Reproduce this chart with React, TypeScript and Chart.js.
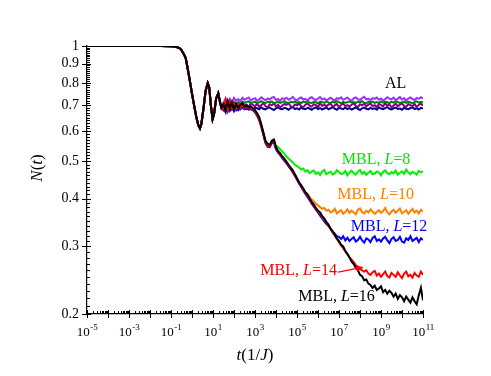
import React, { useEffect, useRef } from 'react';
import { Chart, registerables } from 'chart.js';

Chart.register(...registerables);

// ---------- data (log10 of t, and N(t)) ----------
const earlyLogT = [-5, -2, -1.5, -1.0, -0.8, -0.6, -0.5, -0.4, -0.3, -0.2, -0.1, 0, 0.1, 0.2, 0.3, 0.38, 0.45, 0.55, 0.65, 0.75, 0.82, 0.9, 0.98, 1.05, 1.15, 1.25, 1.32, 1.4];
const earlyN = [1, 1, 1, 0.999, 0.996, 0.988, 0.975, 0.955, 0.93, 0.87, 0.81, 0.75, 0.7, 0.655, 0.622, 0.61, 0.628, 0.69, 0.765, 0.8, 0.78, 0.7, 0.645, 0.665, 0.73, 0.753, 0.72, 0.69];

const lateLogT = [
  1.5, 1.6, 1.7, 1.8, 1.9, 2.0, 2.1, 2.2, 2.3, 2.4,
  2.5, 2.6, 2.7, 2.8, 2.9, 3.0, 3.1, 3.2, 3.3, 3.4,
  3.5, 3.6, 3.7, 3.8, 3.9, 4.0, 4.1, 4.2, 4.3, 4.4,
  4.5, 4.6, 4.7, 4.8, 4.9, 5.0, 5.1, 5.2, 5.3, 5.4,
  5.5, 5.6, 5.7, 5.8, 5.9, 6.0, 6.1, 6.2, 6.3, 6.4,
  6.5, 6.6, 6.7, 6.8, 6.9, 7.0, 7.1, 7.2, 7.3, 7.4,
  7.5, 7.6, 7.7, 7.8, 7.9, 8.0, 8.1, 8.2, 8.3, 8.4,
  8.5, 8.6, 8.7, 8.8, 8.9, 9.0, 9.1, 9.2, 9.3, 9.4,
  9.5, 9.6, 9.7, 9.8, 9.9, 10.0, 10.1, 10.2, 10.3, 10.4,
  10.5, 10.6, 10.7, 10.8, 10.9, 11.0,
];

const mblL16 = [
  0.705, 0.68, 0.718, 0.688, 0.712, 0.684, 0.706, 0.69, 0.702, 0.708,
  0.695, 0.7, 0.692, 0.696, 0.688, 0.68, 0.668, 0.652, 0.625, 0.595,
  0.566, 0.555, 0.552, 0.566, 0.57, 0.545, 0.532, 0.525, 0.515, 0.508,
  0.499, 0.49, 0.482, 0.474, 0.463, 0.452, 0.441, 0.433, 0.425, 0.415,
  0.41, 0.4, 0.392, 0.386, 0.378, 0.372, 0.368, 0.36, 0.355, 0.347,
  0.342, 0.334, 0.328, 0.322, 0.315, 0.31, 0.303, 0.3, 0.292, 0.287,
  0.281, 0.274, 0.27, 0.264, 0.26, 0.253, 0.251, 0.245, 0.246, 0.24,
  0.238, 0.234, 0.237, 0.231, 0.233, 0.236, 0.228, 0.231, 0.226, 0.23,
  0.227, 0.222, 0.226, 0.219, 0.224, 0.221, 0.216, 0.222, 0.218, 0.214,
  0.221, 0.216, 0.212, 0.224, 0.234, 0.217,
];

const mblL14 = [
  0.685, 0.722, 0.678, 0.716, 0.688, 0.71, 0.686, 0.703, 0.69, 0.7,
  0.688, 0.697, 0.688, 0.69, 0.684, 0.676, 0.662, 0.645, 0.62, 0.59,
  0.563, 0.55, 0.548, 0.562, 0.565, 0.541, 0.53, 0.522, 0.513, 0.505,
  0.497, 0.488, 0.48, 0.471, 0.461, 0.45, 0.44, 0.431, 0.422, 0.414,
  0.407, 0.399, 0.39, 0.384, 0.376, 0.37, 0.365, 0.358, 0.352, 0.346,
  0.34, 0.333, 0.326, 0.32, 0.314, 0.308, 0.302, 0.297, 0.291, 0.286,
  0.281, 0.277, 0.273, 0.268, 0.266, 0.262, 0.26, 0.258, 0.26, 0.255,
  0.253, 0.257, 0.259, 0.252, 0.255, 0.25, 0.254, 0.258, 0.251, 0.249,
  0.256, 0.253, 0.25, 0.257, 0.252, 0.248, 0.255, 0.258, 0.251, 0.253,
  0.249, 0.256, 0.252, 0.25, 0.258, 0.253,
];

const mblL12 = [
  0.69, 0.672, 0.7, 0.678, 0.696, 0.676, 0.692, 0.68, 0.688, 0.69,
  0.684, 0.688, 0.682, 0.685, 0.68, 0.672, 0.658, 0.64, 0.615, 0.585,
  0.558, 0.546, 0.545, 0.558, 0.56, 0.538, 0.527, 0.519, 0.51, 0.502,
  0.494, 0.485, 0.477, 0.468, 0.458, 0.448, 0.438, 0.429, 0.42, 0.411,
  0.404, 0.396, 0.388, 0.381, 0.374, 0.368, 0.361, 0.355, 0.349, 0.343,
  0.339, 0.334, 0.328, 0.324, 0.319, 0.318, 0.314, 0.319, 0.311, 0.316,
  0.31, 0.314, 0.317, 0.309, 0.312, 0.318, 0.311, 0.307, 0.315, 0.313,
  0.308, 0.316, 0.319, 0.31, 0.313, 0.309, 0.315, 0.318, 0.311, 0.306,
  0.314, 0.317, 0.31, 0.312, 0.318, 0.309, 0.307, 0.315, 0.312, 0.319,
  0.31, 0.313, 0.316, 0.308, 0.315, 0.312,
];

const mblL10 = [
  0.7, 0.676, 0.71, 0.684, 0.7, 0.682, 0.698, 0.686, 0.694, 0.698,
  0.69, 0.694, 0.686, 0.69, 0.684, 0.674, 0.66, 0.642, 0.616, 0.588,
  0.56, 0.548, 0.546, 0.56, 0.562, 0.54, 0.528, 0.52, 0.512, 0.504,
  0.496, 0.487, 0.479, 0.47, 0.46, 0.45, 0.44, 0.431, 0.423, 0.416,
  0.41, 0.404, 0.398, 0.393, 0.388, 0.384, 0.38, 0.376, 0.378, 0.372,
  0.374, 0.368, 0.371, 0.376, 0.366, 0.37, 0.373, 0.365, 0.369, 0.375,
  0.367, 0.372, 0.368, 0.364, 0.374, 0.377, 0.369, 0.366, 0.372, 0.368,
  0.375, 0.37, 0.365, 0.369, 0.373, 0.367, 0.371, 0.378, 0.368, 0.364,
  0.37, 0.374, 0.367, 0.372, 0.377, 0.366, 0.369, 0.373, 0.365, 0.371,
  0.376, 0.368, 0.372, 0.366, 0.374, 0.37,
];

const mblL8 = [
  0.695, 0.674, 0.706, 0.682, 0.698, 0.68, 0.696, 0.684, 0.692, 0.696,
  0.688, 0.692, 0.684, 0.688, 0.682, 0.674, 0.66, 0.645, 0.62, 0.592,
  0.566, 0.556, 0.553, 0.566, 0.566, 0.55, 0.545, 0.538, 0.53, 0.523,
  0.515, 0.508, 0.503, 0.497, 0.49, 0.486, 0.482, 0.476, 0.479, 0.471,
  0.474, 0.466, 0.47, 0.473, 0.464, 0.468, 0.461, 0.471, 0.475, 0.463,
  0.467, 0.47, 0.462, 0.466, 0.474, 0.469, 0.463, 0.465, 0.472, 0.46,
  0.468, 0.473, 0.466, 0.462, 0.47, 0.475, 0.464, 0.469, 0.461, 0.467,
  0.472, 0.463, 0.465, 0.471, 0.468, 0.46, 0.47, 0.474, 0.466, 0.463,
  0.469, 0.465, 0.473, 0.462, 0.467, 0.471, 0.464, 0.476, 0.468, 0.463,
  0.47, 0.466, 0.462, 0.472, 0.468, 0.471,
];

const alViolet = [
  0.712, 0.73, 0.705, 0.728, 0.715, 0.732, 0.72, 0.727, 0.718, 0.733,
  0.724, 0.729, 0.734, 0.721, 0.727, 0.731, 0.719, 0.726, 0.735, 0.728,
  0.722, 0.73, 0.725, 0.733, 0.736, 0.723, 0.728, 0.72, 0.731, 0.727,
  0.733, 0.724, 0.729, 0.737, 0.726, 0.721, 0.73, 0.734, 0.725, 0.728,
  0.72, 0.731, 0.735, 0.727, 0.723, 0.729, 0.736, 0.725, 0.73, 0.722,
  0.727, 0.733, 0.726, 0.721, 0.731, 0.728, 0.735, 0.724, 0.729, 0.733,
  0.725, 0.72, 0.73, 0.734, 0.727, 0.723, 0.732, 0.737, 0.726, 0.729,
  0.722, 0.731, 0.728, 0.734, 0.724, 0.73, 0.721, 0.727, 0.735, 0.729,
  0.726, 0.733, 0.723, 0.728, 0.736, 0.725, 0.731, 0.72, 0.729, 0.734,
  0.727, 0.723, 0.732, 0.728, 0.735, 0.73,
];

const alGreen = [
  0.7, 0.72, 0.695, 0.718, 0.704, 0.716, 0.708, 0.714, 0.706, 0.716,
  0.711, 0.715, 0.717, 0.71, 0.713, 0.716, 0.709, 0.714, 0.718, 0.712,
  0.71, 0.715, 0.713, 0.717, 0.709, 0.712, 0.716, 0.711, 0.714, 0.718,
  0.712, 0.709, 0.715, 0.713, 0.717, 0.711, 0.714, 0.71, 0.716, 0.713,
  0.718, 0.712, 0.71, 0.715, 0.713, 0.709, 0.716, 0.714, 0.711, 0.717,
  0.713, 0.71, 0.716, 0.712, 0.718, 0.714, 0.709, 0.715, 0.711, 0.713,
  0.717, 0.712, 0.714, 0.71, 0.716, 0.713, 0.718, 0.711, 0.709, 0.715,
  0.713, 0.716, 0.711, 0.714, 0.71, 0.717, 0.712, 0.715, 0.713, 0.709,
  0.716, 0.712, 0.718, 0.714, 0.71, 0.713, 0.716, 0.711, 0.715, 0.712,
  0.709, 0.714, 0.717, 0.712, 0.715, 0.713,
];

const alPurple = [
  0.69, 0.712, 0.686, 0.71, 0.694, 0.708, 0.692, 0.706, 0.695, 0.708,
  0.699, 0.704, 0.693, 0.708, 0.702, 0.696, 0.707, 0.694, 0.701, 0.709,
  0.697, 0.692, 0.705, 0.7, 0.708, 0.695, 0.703, 0.691, 0.699, 0.706,
  0.702, 0.709, 0.696, 0.693, 0.704, 0.7, 0.707, 0.697, 0.692, 0.703,
  0.708, 0.699, 0.695, 0.705, 0.701, 0.693, 0.709, 0.698, 0.703, 0.696,
  0.704, 0.707, 0.694, 0.7, 0.706, 0.692, 0.702, 0.708, 0.697, 0.701,
  0.695, 0.703, 0.709, 0.698, 0.692, 0.705, 0.7, 0.707, 0.696, 0.703,
  0.708, 0.697, 0.701, 0.693, 0.706, 0.702, 0.695, 0.709, 0.699, 0.704,
  0.692, 0.7, 0.707, 0.696, 0.703, 0.709, 0.698, 0.694, 0.705, 0.701,
  0.697, 0.706, 0.693, 0.702, 0.708, 0.699,
];

const alNavy = [
  0.68, 0.698, 0.676, 0.696, 0.682, 0.694, 0.68, 0.692, 0.684, 0.693,
  0.687, 0.684, 0.691, 0.686, 0.682, 0.69, 0.688, 0.684, 0.692, 0.686,
  0.683, 0.689, 0.691, 0.685, 0.681, 0.688, 0.692, 0.686, 0.684, 0.69,
  0.687, 0.682, 0.689, 0.693, 0.685, 0.688, 0.683, 0.691, 0.686, 0.684,
  0.69, 0.687, 0.682, 0.688, 0.692, 0.685, 0.689, 0.683, 0.687, 0.691,
  0.684, 0.688, 0.693, 0.686, 0.682, 0.69, 0.687, 0.684, 0.691, 0.685,
  0.689, 0.683, 0.687, 0.692, 0.685, 0.681, 0.688, 0.691, 0.686, 0.683,
  0.69, 0.685, 0.688, 0.682, 0.692, 0.687, 0.684, 0.689, 0.693, 0.686,
  0.683, 0.688, 0.691, 0.685, 0.687, 0.682, 0.69, 0.686, 0.684, 0.689,
  0.692, 0.685, 0.688, 0.683, 0.69, 0.687,
];

// ---------- ticks ----------
const xTickValues = [1e-5, 1e-3, 1e-1, 1e1, 1e3, 1e5, 1e7, 1e9, 1e11];
const xTickBase = '10';
const xTickExponents = ['-5', '-3', '-1', '1', '3', '5', '7', '9', '11'];
const yTickValues = [0.2, 0.3, 0.4, 0.5, 0.6, 0.7, 0.8, 0.9, 1];
const yTickLabels = ['0.2', '0.3', '0.4', '0.5', '0.6', '0.7', '0.8', '0.9', '1'];
const xDecades = [-5, -4, -3, -2, -1, 0, 1, 2, 3, 4, 5, 6, 7, 8, 9, 10, 11];

// ---------- series styling ----------
const series = [
  { label: 'MBL, L=16', values: mblL16, color: '#000000' },
  { label: 'MBL, L=14', values: mblL14, color: '#ff0000' },
  { label: 'MBL, L=12', values: mblL12, color: '#0000ff' },
  { label: 'MBL, L=10', values: mblL10, color: '#ff8000' },
  { label: 'MBL, L=8', values: mblL8, color: '#00f000' },
  { label: 'AL a', values: alViolet, color: '#9933ff' },
  { label: 'AL b', values: alGreen, color: '#008000' },
  { label: 'AL c', values: alPurple, color: '#800080' },
  { label: 'AL d', values: alNavy, color: '#000080' },
];

// annotation texts, anchored in data coordinates (log10 t, N)
type Part = { t: string; i?: boolean };
const notes: { parts: Part[]; color: string; at: [number, number]; align: 'left' | 'right' }[] = [
  { parts: [{ t: 'AL' }], color: '#000000', at: [9.19, 0.777], align: 'left' },
  { parts: [{ t: 'MBL, ' }, { t: 'L', i: true }, { t: '=8' }], color: '#00e600', at: [7.13, 0.493], align: 'left' },
  { parts: [{ t: 'MBL, ' }, { t: 'L', i: true }, { t: '=10' }], color: '#ff8000', at: [6.92, 0.399], align: 'left' },
  { parts: [{ t: 'MBL, ' }, { t: 'L', i: true }, { t: '=12' }], color: '#0000ff', at: [7.56, 0.33], align: 'left' },
  { parts: [{ t: 'MBL, ' }, { t: 'L', i: true }, { t: '=14' }], color: '#ff0000', at: [6.9, 0.2535], align: 'right' },
  { parts: [{ t: 'MBL, ' }, { t: 'L', i: true }, { t: '=16' }], color: '#000000', at: [5.06, 0.2158], align: 'left' },
];
const arrowFrom: [number, number] = [6.96, 0.2573];
const arrowTo: [number, number] = [8.18, 0.265];

const SERIF = '"Liberation Serif", "Times New Roman", serif';

function buildPoints(late: number[]) {
  const pts: { x: number; y: number }[] = earlyLogT.map((e, i) => ({ x: Math.pow(10, e), y: earlyN[i] }));
  lateLogT.forEach((e, i) => pts.push({ x: Math.pow(10, e), y: late[i] }));
  return pts;
}

function drawRich(ctx: CanvasRenderingContext2D, parts: Part[], x: number, y: number, size: number, align: 'left' | 'right' | 'center') {
  const fontOf = (p: Part) => `${p.i ? 'italic ' : ''}${size}px ${SERIF}`;
  let total = 0;
  parts.forEach((p) => { ctx.font = fontOf(p); total += ctx.measureText(p.t).width; });
  let cx = align === 'left' ? x : align === 'right' ? x - total : x - total / 2;
  ctx.textAlign = 'left';
  ctx.textBaseline = 'alphabetic';
  parts.forEach((p) => {
    ctx.font = fontOf(p);
    ctx.fillText(p.t, cx, y);
    cx += ctx.measureText(p.t).width;
  });
}

const decorPlugin = {
  id: 'decor',
  afterDatasetsDraw(chart: any) {
    const { ctx, chartArea: a, scales } = chart;
    const xs = scales.x;
    const ys = scales.y;
    ctx.save();
    ctx.strokeStyle = '#000';
    ctx.lineWidth = 1;
    const seg = (x1: number, y1: number, x2: number, y2: number) => {
      ctx.beginPath(); ctx.moveTo(x1, y1); ctx.lineTo(x2, y2); ctx.stroke();
    };
    // x ticks
    xDecades.forEach((d) => {
      const px = Math.round(xs.getPixelForValue(Math.pow(10, d))) + 0.5;
      seg(px, a.bottom - 4, px, a.bottom + 4);
      if (d < 11) {
        for (let m = 2; m <= 9; m++) {
          const p = Math.round(xs.getPixelForValue(m * Math.pow(10, d))) + 0.5;
          seg(p, a.bottom - 3, p, a.bottom);
        }
      }
    });
    // y ticks
    for (let k = 20; k <= 100; k++) {
      const v = k / 100;
      const py = Math.round(ys.getPixelForValue(v)) + 0.5;
      if (k % 10 === 0) seg(a.left - 5, py, a.left + 4, py);
      else seg(a.left, py, a.left + 3, py);
    }
    // x tick labels: 10 with superscript exponent
    ctx.fillStyle = '#000';
    ctx.textAlign = 'left';
    ctx.textBaseline = 'alphabetic';
    xTickValues.forEach((v, i) => {
      const px = xs.getPixelForValue(v);
      ctx.font = `13px ${SERIF}`;
      const wb = ctx.measureText(xTickBase).width;
      ctx.font = `9px ${SERIF}`;
      const we = ctx.measureText(xTickExponents[i]).width;
      const x0 = px - (wb + we) / 2;
      ctx.font = `13px ${SERIF}`;
      ctx.fillText(xTickBase, x0, a.bottom + 22);
      ctx.font = `9px ${SERIF}`;
      ctx.fillText(xTickExponents[i], x0 + wb + 0.5, a.bottom + 16);
    });
    // annotations
    notes.forEach((n) => {
      ctx.fillStyle = n.color;
      const px = xs.getPixelForValue(Math.pow(10, n.at[0]));
      const py = ys.getPixelForValue(n.at[1]);
      drawRich(ctx, n.parts, px, py, 16, n.align);
    });
    // arrow
    const ax1 = xs.getPixelForValue(Math.pow(10, arrowFrom[0]));
    const ay1 = ys.getPixelForValue(arrowFrom[1]);
    const ax2 = xs.getPixelForValue(Math.pow(10, arrowTo[0]));
    const ay2 = ys.getPixelForValue(arrowTo[1]);
    ctx.strokeStyle = '#ff0000';
    ctx.fillStyle = '#ff0000';
    ctx.lineWidth = 1.2;
    seg(ax1, ay1, ax2 - 4, ay2 + 0.8);
    const ang = Math.atan2(ay2 - ay1, ax2 - ax1);
    ctx.beginPath();
    ctx.moveTo(ax2, ay2);
    ctx.lineTo(ax2 - 7 * Math.cos(ang) + 3 * Math.sin(ang), ay2 - 7 * Math.sin(ang) - 3 * Math.cos(ang));
    ctx.lineTo(ax2 - 7 * Math.cos(ang) - 3 * Math.sin(ang), ay2 - 7 * Math.sin(ang) + 3 * Math.cos(ang));
    ctx.closePath();
    ctx.fill();
    // axis titles
    ctx.fillStyle = '#000';
    drawRich(ctx, [{ t: 't', i: true }, { t: '(1/' }, { t: 'J', i: true }, { t: ')' }], (a.left + a.right) / 2, a.bottom + 46, 17, 'center');
    ctx.save();
    ctx.translate(42, a.top + 122);
    ctx.rotate(-Math.PI / 2);
    drawRich(ctx, [{ t: 'N', i: true }, { t: '(' }, { t: 't', i: true }, { t: ')' }], 0, 0, 17, 'center');
    ctx.restore();
    ctx.restore();
  },
};

export default function App() {
  const ref = useRef<HTMLCanvasElement>(null);
  useEffect(() => {
    const datasets = series.map((s) => ({
      label: s.label,
      data: buildPoints(s.values),
      borderColor: s.color,
      backgroundColor: s.color,
      borderWidth: 2,
      pointRadius: 0,
      tension: 0,
      fill: false,
    }));
    const chart = new Chart(ref.current as HTMLCanvasElement, {
      type: 'line',
      data: { datasets },
      options: {
        responsive: false,
        animation: false,
        parsing: false as any,
        normalized: true,
        layout: { padding: { left: 0, right: 68, top: 46, bottom: 0 } },
        plugins: { legend: { display: false }, tooltip: { enabled: false }, title: { display: false } },
        scales: {
          x: {
            type: 'logarithmic',
            min: 1e-5,
            max: 1e11,
            afterFit: (s: any) => { s.height = 62; },
            afterBuildTicks: (s: any) => { s.ticks = xTickValues.map((v) => ({ value: v })); },
            grid: { display: true, drawOnChartArea: false, drawTicks: false },
            border: { display: true, color: '#000', width: 1.2 },
            ticks: { display: false, autoSkip: false, maxRotation: 0 },
          },
          y: {
            type: 'logarithmic',
            min: 0.2,
            max: 1,
            afterFit: (s: any) => { s.width = 87; },
            afterBuildTicks: (s: any) => { s.ticks = yTickValues.map((v) => ({ value: v })); },
            grid: { display: true, drawOnChartArea: false, drawTicks: false },
            border: { display: true, color: '#000', width: 1.2 },
            ticks: {
              autoSkip: false,
              padding: 8,
              color: '#000',
              font: { family: SERIF, size: 14 },
              callback: (_v: any, i: number) => yTickLabels[i],
            },
          },
        },
      },
      plugins: [decorPlugin],
    } as any);
    return () => chart.destroy();
  }, []);
  return (
    <div style={{ position: 'absolute', left: 0, top: 0, width: 491, height: 376, background: '#fff' }}>
      <canvas ref={ref} width={491} height={376} style={{ display: 'block' }} />
    </div>
  );
}
